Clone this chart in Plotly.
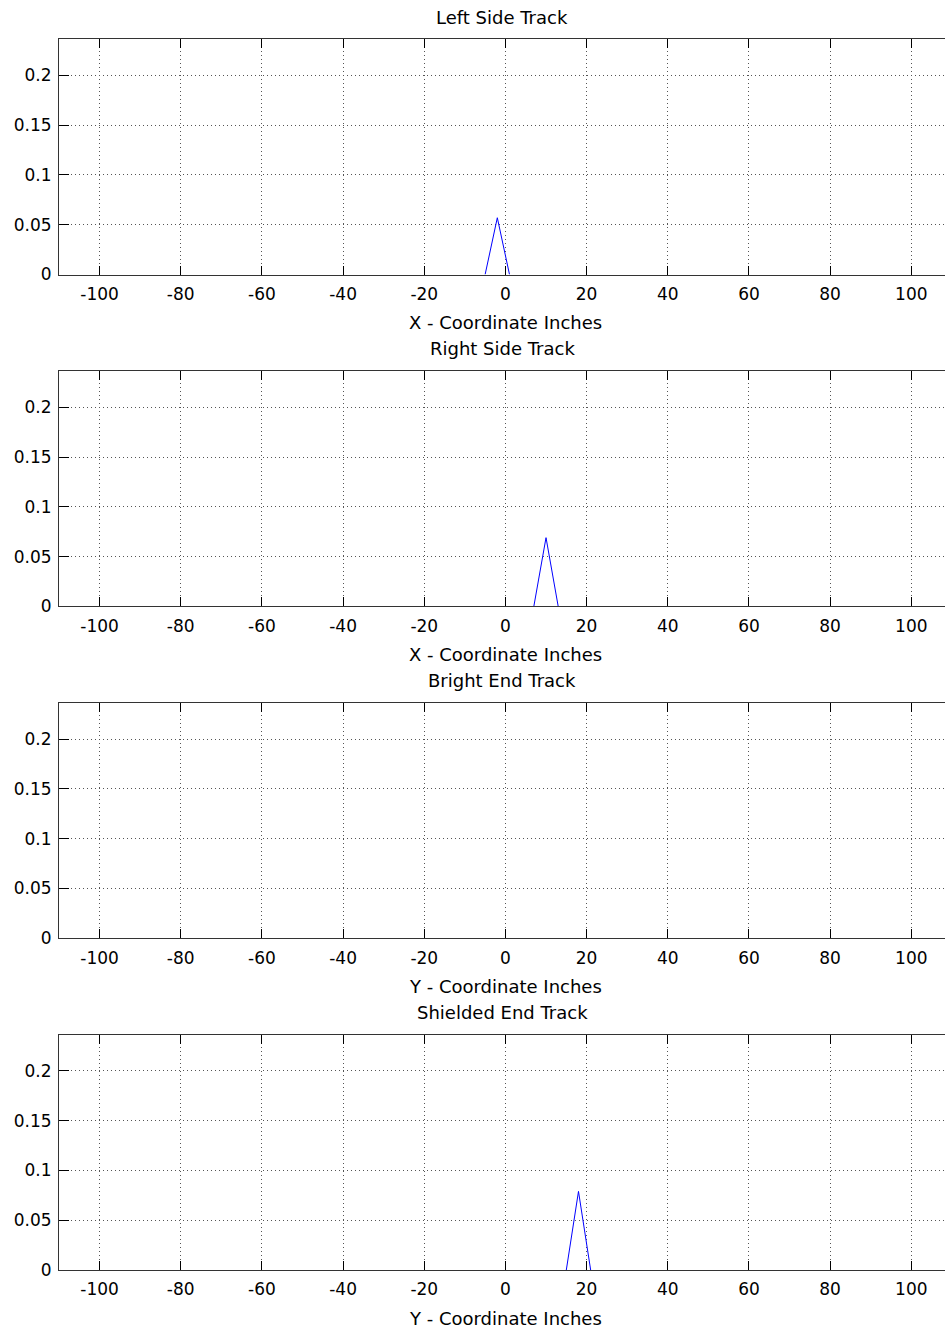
import plotly.graph_objects as go

# ---- data ----
titles = ["Left Side Track", "Right Side Track", "Bright End Track", "Shielded End Track"]
xlabels = ["X - Coordinate Inches", "X - Coordinate Inches", "Y - Coordinate Inches", "Y - Coordinate Inches"]

left_x = [-5, -2, 1]
left_y = [0, 0.057, 0]
right_x = [7, 10, 13]
right_y = [0, 0.069, 0]
bright_x = []
bright_y = []
shield_x = [15, 18, 21]
shield_y = [0, 0.079, 0]

xticks = [-100, -80, -60, -40, -20, 0, 20, 40, 60, 80, 100]
yticks = [0, 0.05, 0.1, 0.15, 0.2]
yticklabels = ["0", "0.05", "0.1", "0.15", "0.2"]

series = [(left_x, left_y), (right_x, right_y), (bright_x, bright_y), (shield_x, shield_y)]

W = 945
S = 1340 / 1329          # vertical compensation for the capture
H = 1340
FONT = "DejaVu Sans"

# pixel layout (target page coordinates)
left_px = 59
right_px = 945
tops = [39, 370.6, 702.2, 1033.8]
ph = 235.3
px_per_unit = 4.0585
xr = [-110, -110 + (right_px - left_px) / px_per_unit]
yr = [0, 0.2365]


def fy(y):
    return 1 - (y * S) / H


fig = go.Figure()
annotations = []
for i, (xs, ys) in enumerate(series):
    n = i + 1
    xa = "x" if n == 1 else f"x{n}"
    ya = "y" if n == 1 else f"y{n}"
    fig.add_trace(go.Scatter(x=xs, y=ys, mode="lines", line=dict(color="#0000ff", width=1),
                             xaxis=xa, yaxis=ya, showlegend=False, hoverinfo="skip"))
    top = tops[i]
    bot = top + ph
    dom_y = [fy(bot), fy(top)]
    ax_common = dict(showline=True, linecolor="#333", linewidth=1, ticks="inside",
                     tickcolor="#000", tickwidth=1, showgrid=True, gridcolor="#555",
                     griddash="1px,3px", gridwidth=1, zeroline=False,
                     tickfont=dict(family=FONT, size=17, color="#000"))
    fig.layout["xaxis" if n == 1 else f"xaxis{n}"] = dict(
        ax_common, domain=[left_px / W, right_px / W], range=xr, tickvals=xticks,
        ticktext=[str(v) for v in xticks], mirror="ticks", ticklen=9,
        anchor=ya, fixedrange=True, ticklabelstandoff=4)
    fig.layout["yaxis" if n == 1 else f"yaxis{n}"] = dict(
        ax_common, domain=dom_y, range=yr, tickvals=yticks, ticktext=yticklabels,
        mirror=False, ticklen=10, anchor=xa, fixedrange=True, ticklabelstandoff=3)
    cx = (left_px + 110 * px_per_unit) / W
    annotations.append(dict(text=titles[i], x=cx - 3 / W, y=fy(top - 22), xref="paper",
                            yref="paper", showarrow=False, xanchor="center", yanchor="middle",
                            font=dict(family=FONT, size=18, color="#000")))
    annotations.append(dict(text=xlabels[i], x=cx, y=fy(bot + 48), xref="paper",
                            yref="paper", showarrow=False, xanchor="center", yanchor="middle",
                            font=dict(family=FONT, size=18, color="#000")))

fig.update_layout(width=W, height=H, margin=dict(l=0, r=0, t=0, b=0),
                  paper_bgcolor="#fff", plot_bgcolor="#fff", annotations=annotations)
fig.write_html("out.html", config={"displayModeBar": False},
               post_script="document.body.style.margin='0';document.body.style.overflow='hidden';")
